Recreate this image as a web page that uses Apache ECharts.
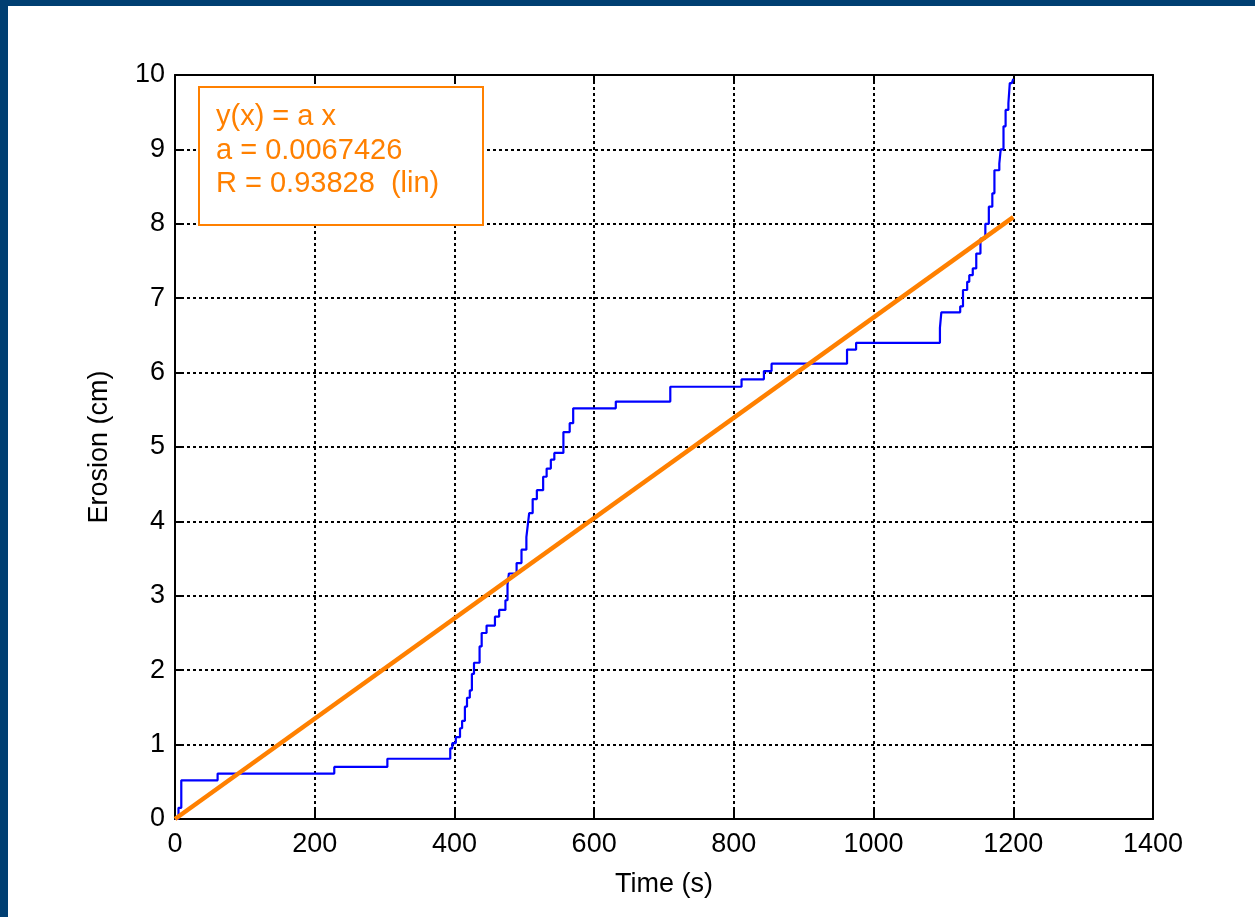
<!DOCTYPE html>
<html>
<head>
<meta charset="utf-8">
<script src="https://cdn.jsdelivr.net/npm/echarts@6/dist/echarts.min.js"></script>
<style>
  html, body { margin: 0; padding: 0; background: #fff; }
  #chart { width: 1255px; height: 917px; }
</style>
</head>
<body>
<div id="chart"></div>
<script>
// measured erosion (blue step curve)
const measuredTime = [0, 5, 9, 61, 228, 304, 394, 397, 402, 408, 411, 415, 418, 422, 425, 428,
  436, 439, 446, 458, 464, 473, 476, 478, 489, 496, 503, 505, 507, 512, 518, 527, 532, 538, 543,
  556, 565, 570, 631, 709, 811, 843, 854, 962, 975, 1095, 1097, 1124, 1128, 1134, 1137, 1142,
  1147, 1153, 1160, 1165, 1170, 1173, 1180, 1182, 1186, 1189, 1193, 1195, 1198, 1200];
const measuredErosion = [0, 0.15, 0.52, 0.61, 0.70, 0.81, 0.95, 1.02, 1.10, 1.22, 1.32, 1.51, 1.63, 1.73, 1.95, 2.10,
  2.32, 2.50, 2.60, 2.72, 2.81, 2.94, 3.15, 3.30, 3.44, 3.62, 3.79, 3.95, 4.11, 4.30, 4.42, 4.60, 4.71, 4.83, 4.92,
  5.20, 5.32, 5.52, 5.61, 5.81, 5.91, 6.02, 6.12, 6.31, 6.40, 6.60, 6.81, 6.89, 7.11, 7.22, 7.31, 7.40,
  7.60, 7.80, 8.00, 8.23, 8.41, 8.72, 8.81, 9.00, 9.31, 9.53, 9.62, 9.89, 9.91, 9.95];

// linear fit y = a x (orange)
const fitTime = [0, 1200];
const fitErosion = [0, 8.09];

const fitText = ['y(x) = a x', 'a = 0.0067426', 'R = 0.93828  (lin)'];

const frameColor = '#003f72';
const orange = '#ff8000';
const font = 'Liberation Sans, Arial, sans-serif';

const chart = echarts.init(document.getElementById('chart'));

const gridLine = { show: true, lineStyle: { color: '#000', width: 2, type: [3, 3] } };
const axisLine = { show: true, onZero: false, lineStyle: { color: '#000', width: 2 } };
const axisTick = { show: true, inside: true, length: 9, lineStyle: { color: '#000', width: 2 } };
const plain = v => String(v);

const option = {
  animation: false,
  backgroundColor: '#fff',
  grid: { left: 175, top: 75, right: 102, bottom: 98 },
  xAxis: [
    {
      type: 'value', min: 0, max: 1400, interval: 200,
      name: 'Time (s)', nameLocation: 'middle', nameGap: 52,
      nameTextStyle: { color: '#000', fontSize: 27, fontFamily: font },
      axisLine, axisTick, splitLine: gridLine,
      axisLabel: { color: '#000', fontSize: 27, fontFamily: font, margin: 12, formatter: plain }
    },
    {
      type: 'value', min: 0, max: 1400, interval: 200, position: 'top',
      axisLine, axisTick, splitLine: { show: false }, axisLabel: { show: false }
    }
  ],
  yAxis: [
    {
      type: 'value', min: 0, max: 10, interval: 1,
      name: 'Erosion (cm)', nameLocation: 'middle', nameGap: 62, nameRotate: 90,
      nameTextStyle: { color: '#000', fontSize: 27, fontFamily: font },
      axisLine, axisTick, splitLine: gridLine,
      axisLabel: { color: '#000', fontSize: 27, fontFamily: font, margin: 10, formatter: plain }
    },
    {
      type: 'value', min: 0, max: 10, interval: 1, position: 'right',
      axisLine, axisTick, splitLine: { show: false }, axisLabel: { show: false }
    }
  ],
  series: [
    {
      type: 'line',
      step: 'end',
      showSymbol: false,
      data: measuredTime.map((t, i) => [t, measuredErosion[i]]),
      lineStyle: { color: '#0000ff', width: 2.2 },
      z: 3
    },
    {
      type: 'line',
      showSymbol: false,
      data: fitTime.map((t, i) => [t, fitErosion[i]]),
      lineStyle: { color: orange, width: 4.5 },
      z: 4
    }
  ],
  graphic: [
    { type: 'rect', left: 0, top: 0, shape: { width: 1255, height: 6 }, style: { fill: frameColor }, z: 100 },
    { type: 'rect', left: 0, top: 0, shape: { width: 8, height: 917 }, style: { fill: frameColor }, z: 100 },
    {
      type: 'rect', x: 199, y: 87, shape: { width: 284, height: 138 },
      style: { fill: '#fff', stroke: orange, lineWidth: 2 }, z: 50
    },
    ...fitText.map((s, i) => ({
      type: 'text', x: 216, y: 117 + i * 33.5, z: 51,
      style: { text: s, fill: orange, font: '29px ' + font, verticalAlign: 'middle', align: 'left' }
    }))
  ]
};

chart.setOption(option);
</script>
</body>
</html>
